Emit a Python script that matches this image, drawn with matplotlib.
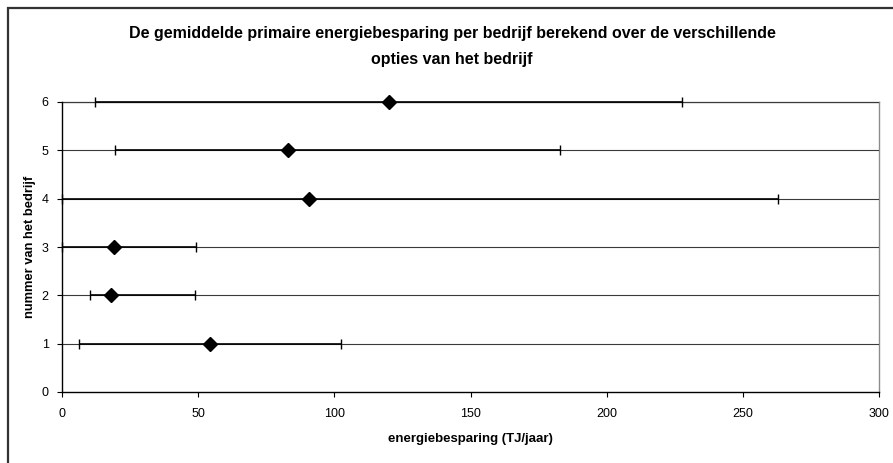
import numpy as np
import matplotlib.pyplot as plt
from matplotlib.patches import Rectangle

plt.rcParams['font.family'] = ['Liberation Sans', 'DejaVu Sans']

# gemiddelde besparing per bedrijf met laagste en hoogste optie
bedrijf = [1, 2, 3, 4, 5, 6]
gemiddeld = [54.4, 17.9, 19.2, 90.8, 83.0, 120.1]
minimum = [6.2, 10.3, 0.0, 0.0, 19.5, 12.1]
maximum = [102.5, 48.8, 49.3, 262.8, 183.0, 227.6]

x_ticks = [0, 50, 100, 150, 200, 250, 300]
y_ticks = [0, 1, 2, 3, 4, 5, 6]

W, H = 893, 463
fig = plt.figure(figsize=(W / 100, H / 100), dpi=100)
ax = fig.add_axes([62 / W, 1 - 392 / H, (879 - 62) / W, (392 - 102) / H])

# outer chart border (right and bottom fall outside the image)
fig.patches.append(Rectangle((8 / W, -0.1), 1.2, 1 - 7.5 / H + 0.1,
                             transform=fig.transFigure, fill=False,
                             edgecolor='#333333', linewidth=1.6))

for y in y_ticks[1:]:
    ax.axhline(y, color='#3a3a3a', linewidth=0.8, zorder=1)

gem = np.array(gemiddeld)
err = [gem - np.array(minimum), np.array(maximum) - gem]
eb = ax.errorbar(gemiddeld, bedrijf, xerr=err, fmt='none', ecolor='black',
                 elinewidth=1.2, capsize=3.5, capthick=1.0, zorder=3)
for art in list(eb.lines[1]) + list(eb.lines[2]):
    art.set_clip_on(False)
ax.plot(gemiddeld, bedrijf, linestyle='none', marker='D', markersize=7.5,
        color='black', zorder=4, clip_on=False)

ax.set_xlim(0, 300)
ax.set_ylim(0, 6)
ax.set_xticks(x_ticks)
ax.set_yticks(y_ticks)
ax.tick_params(direction='out', length=3.6, width=0.8, labelsize=9,
               colors='black')
ax.tick_params(axis='x', pad=8)
ax.tick_params(axis='y', pad=6)

for side in ['top', 'right']:
    ax.spines[side].set_color('#8c8c8c')
    ax.spines[side].set_linewidth(1.0)
    ax.spines[side].set_zorder(0.5)
for side in ['left', 'bottom']:
    ax.spines[side].set_color('black')
    ax.spines[side].set_linewidth(1.0)

ax.set_xlabel('energiebesparing (TJ/jaar)', fontsize=9.5, fontweight='bold',
              labelpad=9)
ax.set_ylabel('nummer van het bedrijf', fontsize=9.3, fontweight='bold',
              labelpad=4)

fig.text(452 / W, 1 - 38 / H,
         'De gemiddelde primaire energiebesparing per bedrijf berekend over de verschillende',
         ha='center', va='baseline', fontsize=11.5, fontweight='bold')
fig.text(452 / W, 1 - 64 / H, 'opties van het bedrijf',
         ha='center', va='baseline', fontsize=11.5, fontweight='bold')

fig.savefig('out.png', dpi=100)
